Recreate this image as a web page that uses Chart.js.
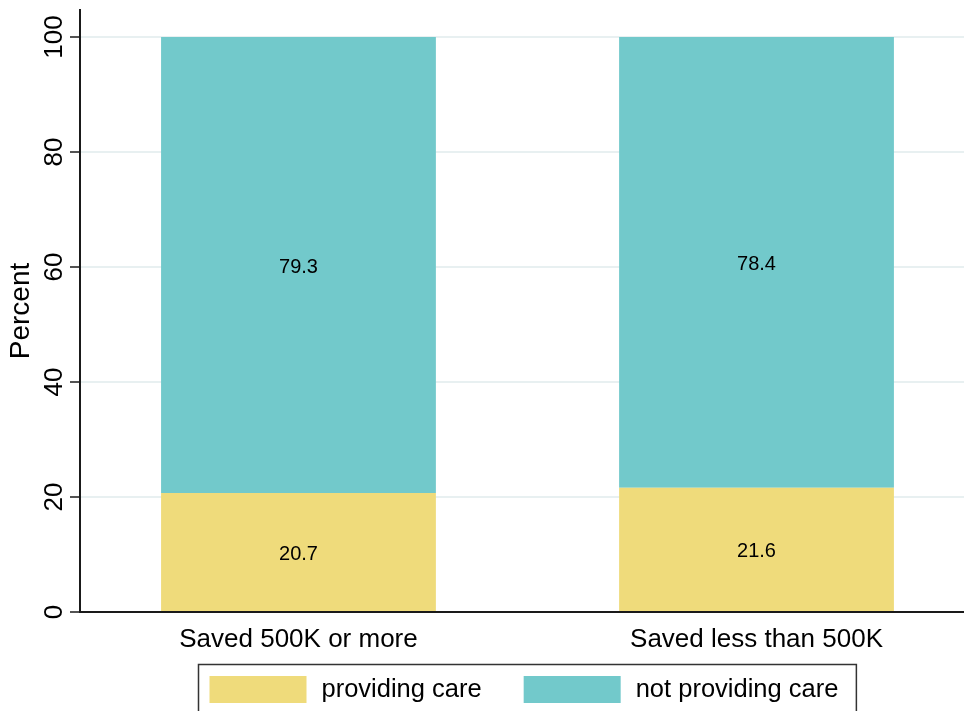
<!DOCTYPE html>
<html>
<head>
<meta charset="utf-8">
<style>
  html, body { margin: 0; padding: 0; background: #fff; }
  #wrap { width: 964px; height: 711px; }
</style>
<script src="https://cdn.jsdelivr.net/npm/chart.js@4/dist/chart.umd.min.js"></script>
</head>
<body>
<div id="wrap"><canvas id="c" width="964" height="711"></canvas></div>
<script>
// ---- data ----
const categories = ['Saved 500K or more', 'Saved less than 500K'];
const providingCare = [20.7, 21.6];
const notProvidingCare = [79.3, 78.4];
const seriesLabels = ['providing care', 'not providing care'];
const yTickValues = [0, 20, 40, 60, 80, 100];

// ---- styles ----
const FONT = '"Liberation Sans", Arial, Helvetica, sans-serif';
const YELLOW = '#efdb7b';
const TEAL = '#72c9cb';

const positions = categories.map((c, i) => i + 1);
const toPoints = (vals) => vals.map((v, i) => ({ x: positions[i], y: v }));

const valueLabels = {
  id: 'valueLabels',
  afterDatasetsDraw(chart) {
    const ctx = chart.ctx;
    ctx.save();
    ctx.font = '20px ' + FONT;
    ctx.fillStyle = '#000';
    ctx.textAlign = 'center';
    ctx.textBaseline = 'middle';
    chart.data.datasets.forEach((ds, di) => {
      const meta = chart.getDatasetMeta(di);
      meta.data.forEach((el, i) => {
        const p = el.getProps(['x', 'y', 'base'], true);
        ctx.fillText(ds.data[i].y.toFixed(1), p.x, (p.y + p.base) / 2 + 2);
      });
    });
    ctx.restore();
  }
};

const boxLegend = {
  id: 'boxLegend',
  afterDraw(chart) {
    const ctx = chart.ctx;
    const ca = chart.chartArea;
    ctx.save();
    ctx.font = '25.5px ' + FONT;
    const sw = 97, sh = 27, gapText = 15, gapItem = 42, padL = 11, padR = 18;
    const items = chart.data.datasets.map(ds => ({
      label: ds.label, color: ds.backgroundColor, w: ctx.measureText(ds.label).width
    }));
    let total = padL + padR;
    items.forEach((it, i) => { total += sw + gapText + it.w + (i < items.length - 1 ? gapItem : 0); });
    const cx = (ca.left + ca.right) / 2 + 5;
    const left = Math.round(cx - total / 2) + 0.5;
    const top = 664.5;
    ctx.strokeStyle = '#333';
    ctx.lineWidth = 1.5;
    ctx.strokeRect(left, top, total, 60);
    let x = left + padL;
    ctx.textBaseline = 'middle';
    ctx.textAlign = 'left';
    items.forEach((it) => {
      ctx.fillStyle = it.color;
      ctx.fillRect(x, 676, sw, sh);
      x += sw + gapText;
      ctx.fillStyle = '#000';
      ctx.fillText(it.label, x, 690);
      x += it.w + gapItem;
    });
    ctx.restore();
  }
};

new Chart(document.getElementById('c'), {
  type: 'bar',
  data: {
    datasets: [
      { label: seriesLabels[0], data: toPoints(providingCare), backgroundColor: YELLOW, borderWidth: 0 },
      { label: seriesLabels[1], data: toPoints(notProvidingCare), backgroundColor: TEAL, borderWidth: 0 }
    ]
  },
  options: {
    responsive: false,
    animation: false,
    devicePixelRatio: 1,
    layout: { padding: { top: 10, right: 0, bottom: 0, left: 0 } },
    datasets: { bar: { barPercentage: 0.6, categoryPercentage: 1.0 } },
    plugins: {
      legend: { display: false },
      tooltip: { enabled: false }
    },
    scales: {
      x: {
        type: 'linear',
        stacked: true,
        offset: false,
        min: 0.523,
        max: 2.453,
        afterBuildTicks: (axis) => { axis.ticks = positions.map(v => ({ value: v })); },
        afterFit: (axis) => { axis.height = 99; axis.paddingLeft = 0; axis.paddingRight = 0; },
        grid: { display: false, drawTicks: false, offset: false },
        border: { display: true, color: '#1a1a1a', width: 2 },
        ticks: {
          autoSkip: false,
          maxRotation: 0,
          padding: 12,
          color: '#000',
          font: { family: FONT, size: 26 },
          callback: (v) => categories[Math.round(v) - 1] || ''
        }
      },
      y: {
        stacked: true,
        min: 0,
        max: 104.7,
        afterBuildTicks: (axis) => { axis.ticks = yTickValues.map(v => ({ value: v })); },
        afterFit: (axis) => { axis.width = 80; axis.paddingTop = 0; axis.paddingBottom = 0; },
        grid: { color: '#e8f0f1', lineWidth: 2, tickColor: '#1a1a1a', tickLength: 10, tickWidth: 1.5, drawTicks: true },
        border: { display: true, color: '#1a1a1a', width: 2 },
        ticks: {
          minRotation: 90,
          maxRotation: 90,
          crossAlign: 'center',
          padding: -7,
          color: '#000',
          font: { family: FONT, size: 26 }
        },
        title: {
          display: true,
          text: 'Percent',
          color: '#000',
          font: { family: FONT, size: 28 },
          padding: { top: 4, bottom: 0 }
        }
      }
    }
  },
  plugins: [valueLabels, boxLegend]
});
</script>
</body>
</html>
